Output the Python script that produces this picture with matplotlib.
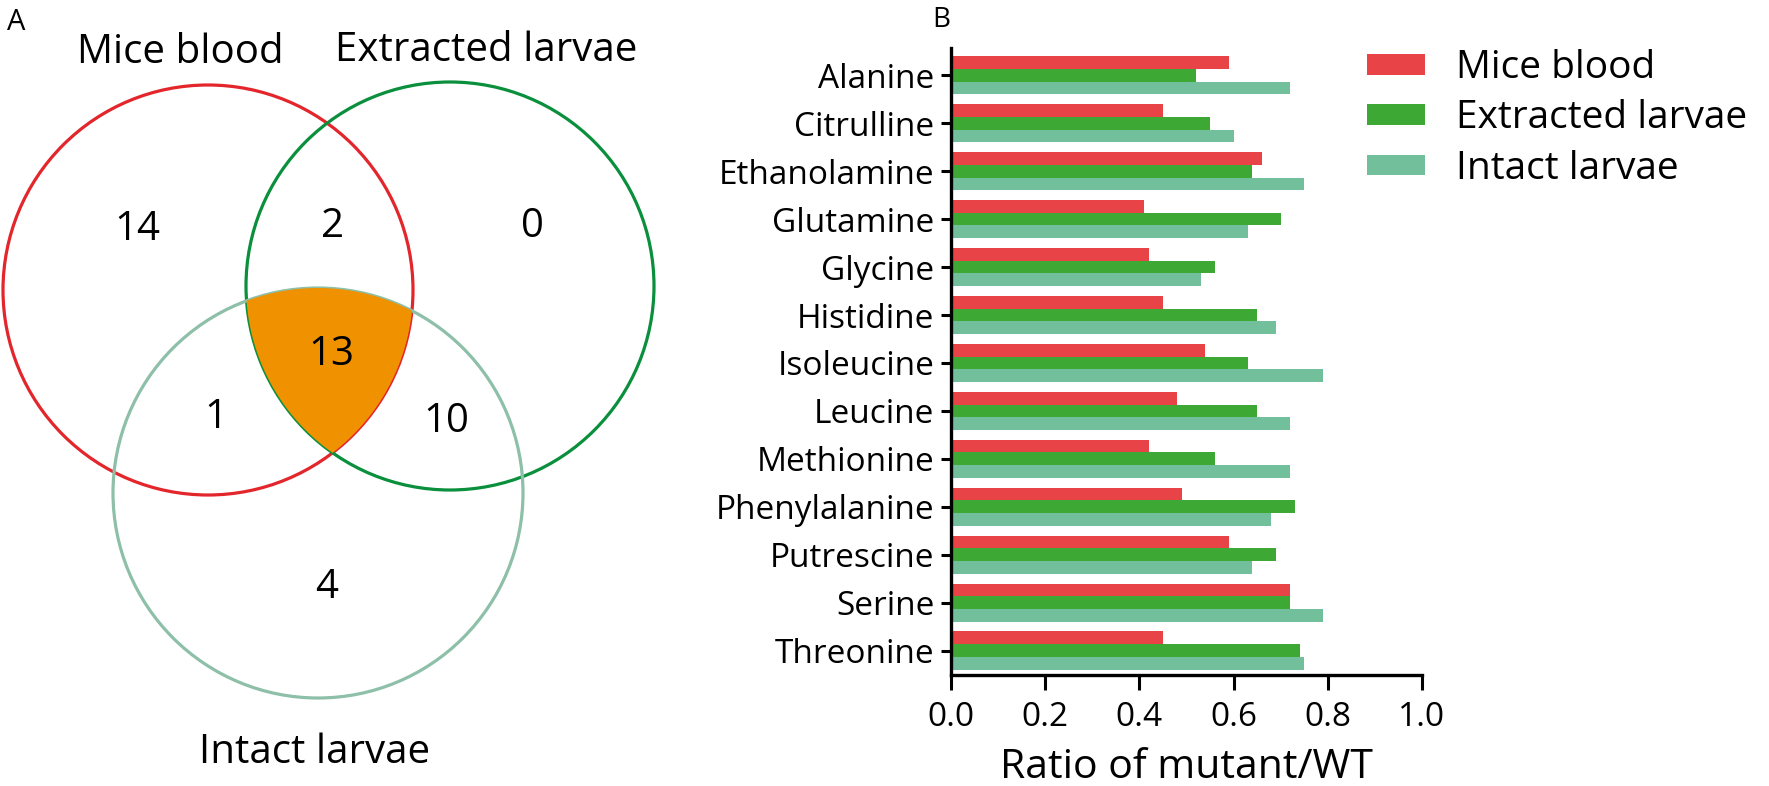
import numpy as np
import matplotlib
matplotlib.use("Agg")
import matplotlib.pyplot as plt
from matplotlib.patches import Circle, Polygon

plt.rcParams["font.family"] = ["Open Sans", "DejaVu Sans"]

# panel B data
amino_acids = ["Alanine", "Citrulline", "Ethanolamine", "Glutamine", "Glycine",
               "Histidine", "Isoleucine", "Leucine", "Methionine", "Phenylalanine",
               "Putrescine", "Serine", "Threonine"]
mice_blood = [0.59, 0.45, 0.66, 0.41, 0.42, 0.45, 0.54, 0.48, 0.42, 0.49, 0.59, 0.72, 0.45]
extracted_larvae = [0.52, 0.55, 0.64, 0.70, 0.56, 0.65, 0.63, 0.65, 0.56, 0.73, 0.69, 0.72, 0.74]
intact_larvae = [0.72, 0.60, 0.75, 0.63, 0.53, 0.69, 0.79, 0.72, 0.72, 0.68, 0.64, 0.79, 0.75]
series_names = ["Mice blood", "Extracted larvae", "Intact larvae"]
x_ticks = [0.0, 0.2, 0.4, 0.6, 0.8, 1.0]

# panel A data (region counts)
venn_counts = {"M": 14, "ME": 2, "E": 0, "MEI": 13, "MI": 1, "EI": 10, "I": 4}

bar_colors = ["#e84346", "#3da834", "#72bf9c"]
venn_colors = ["#e3262b", "#0a8f3c", "#8dbfa9"]
orange = "#f09100"

W, H = 1769, 786
fig = plt.figure(figsize=(W / 100, H / 100), dpi=100)

# ---------- panel A : Venn (drawn in pixel coordinates) ----------
axv = fig.add_axes([0, 0, 0.5, 1])
axv.set_xlim(0, W * 0.5)
axv.set_ylim(H, 0)
axv.axis("off")

circles = [((208, 290), 205), ((450, 286), 204), ((318, 493), 205)]
for k in [2, 0, 1]:
    c, r = circles[k]
    axv.add_patch(Circle(c, r, fill=False, ec=venn_colors[k], lw=2.3, zorder=1 + k % 3))

# triple intersection: boundary points of each circle lying inside the other two
t = np.linspace(0, 2 * np.pi, 2000)
pts_all = []
for i, (c, r) in enumerate(circles):
    p = np.column_stack([c[0] + r * np.cos(t), c[1] + r * np.sin(t)])
    keep = np.ones(len(p), bool)
    for j, (c2, r2) in enumerate(circles):
        if j != i:
            keep &= np.hypot(p[:, 0] - c2[0], p[:, 1] - c2[1]) <= r2 + 0.01
    pts_all.append(p[keep])
pts = np.vstack(pts_all)
cen = pts.mean(axis=0)
order = np.argsort(np.arctan2(pts[:, 1] - cen[1], pts[:, 0] - cen[0]))
axv.add_patch(Polygon(pts[order], closed=True, fc=orange, ec="none", zorder=5))

# text positions: (x center, baseline) in pixels
num_pos = {"M": (137, 240), "ME": (333, 237), "E": (532, 237), "MEI": (331, 365),
           "MI": (216, 428), "EI": (446, 432), "I": (327, 598)}
for key, val in venn_counts.items():
    axv.text(*num_pos[key], str(val), fontsize=29, ha="center", va="baseline", zorder=6)

label_pos = [(180, 63), (486, 61), (315, 763)]
for (lx, ly), name in zip(label_pos, series_names):
    axv.text(lx, ly, name, fontsize=29, ha="center", va="baseline")
axv.text(7, 30, "A", fontsize=21, ha="left", va="baseline")
fig.text(932 / W, 1 - 27 / H, "B", fontsize=20, ha="left", va="baseline")

# ---------- panel B : grouped horizontal bars ----------
ax = fig.add_axes([951 / W, 1 - 675 / H, 471 / W, 627 / H])
y = np.arange(len(amino_acids))
h = 0.265
for k, (vals, col, name) in enumerate(zip([mice_blood, extracted_larvae, intact_larvae],
                                          bar_colors, series_names)):
    ax.barh(y + (k - 1) * h, vals, height=h, color=col, label=name)

ax.set_ylim(len(amino_acids) - 0.49, -0.57)
ax.set_xlim(0, 1.0)
ax.set_yticks(y)
ax.set_yticklabels(amino_acids)
ax.set_xticks(x_ticks)
ax.set_xticklabels([f"{v:.1f}" for v in x_ticks])
for s in ["top", "right"]:
    ax.spines[s].set_visible(False)
for s in ["left", "bottom"]:
    ax.spines[s].set_linewidth(2.4)
ax.tick_params(axis="y", length=7, width=2.2, pad=5, labelsize=24)
ax.tick_params(axis="x", length=11, width=2.2, pad=8, labelsize=24)
ax.set_xlabel("Ratio of mutant/WT", fontsize=29.5)
ax.xaxis.set_label_coords(0.5, -0.115)

fig.legend(loc="upper left", bbox_to_anchor=(1367 / W, 1 - 49 / H), frameon=False,
           fontsize=28, handlelength=1.5, handleheight=0.45, handletextpad=0.8,
           labelspacing=0.32, borderpad=0, borderaxespad=0)

fig.savefig("out.png", dpi=100)
